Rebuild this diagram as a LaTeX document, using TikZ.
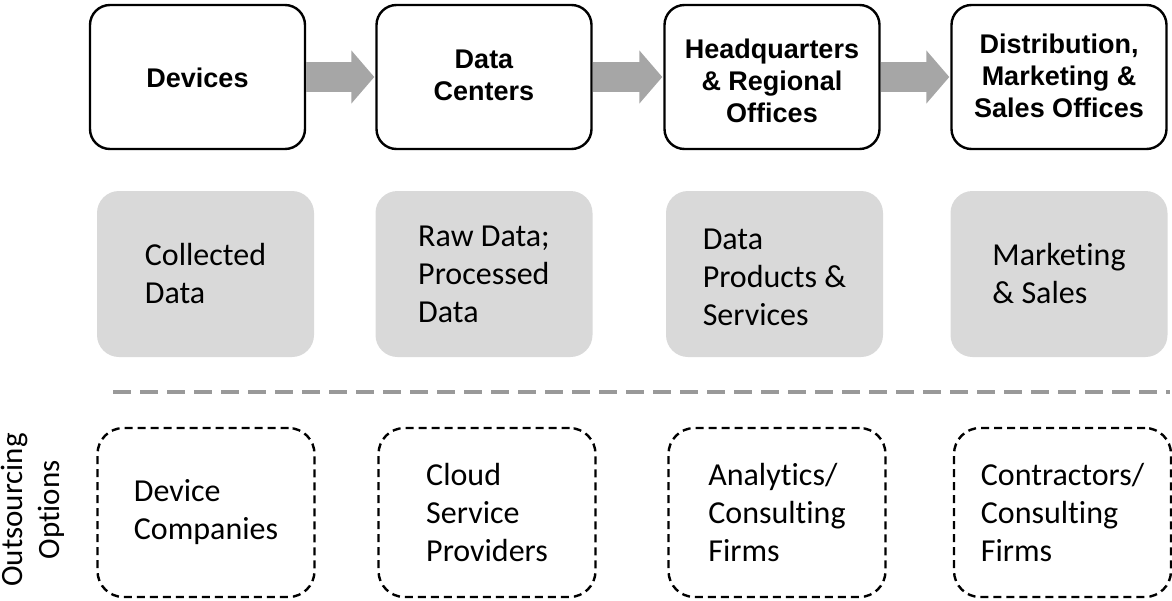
\documentclass[tikz,border=0pt]{standalone}
\usepackage{fontspec}
\usetikzlibrary{arrows.meta}
\newfontfamily\hdfont{Liberation Sans}
\newfontfamily\calfont{Carlito}[Ligatures=NoCommon]
\definecolor{arrowgray}{HTML}{A6A6A6}
\definecolor{boxgray}{HTML}{D9D9D9}
\definecolor{sepgray}{HTML}{999999}
\tikzset{
  topbox/.style={draw=black, line width=2.4pt, rounded corners=20pt, fill=white,
    minimum width=215pt, minimum height=144pt, inner sep=0pt},
  toptext/.style={align=center, inner sep=0pt,
    font=\hdfont\bfseries\fontsize{27}{32}\selectfont},
  graybox/.style={fill=boxgray, rounded corners=22pt,
    minimum width=217pt, minimum height=166pt, inner sep=0pt},
  graytext/.style={align=left, inner sep=0pt, font=\calfont\fontsize{32}{38}\selectfont},
  dashbox/.style={draw=black, line width=2.4pt, dash pattern=on 8pt off 5pt, rounded corners=26pt,
    minimum width=217pt, minimum height=169pt, inner sep=0pt},
  flowarrow/.style={draw=arrowgray, line width=30pt, -{Triangle[length=23pt,width=52pt]}, shorten >=1pt},
}
\begin{document}
\begin{tikzpicture}[x=1pt,y=-1pt]
\useasboundingbox (0,0) rectangle (1172,600);
% top row
\node[topbox] (dev) at (197.5,77) {};
\node[topbox] (dc) at (484,77) {};
\node[topbox] (hq) at (772,77) {};
\node[topbox] (dist) at (1059,77) {};
\node[toptext] (devt) at (197.5,78) {Devices};
\node[toptext] (dct) at (484,75) {Data\\Centers};
\node[toptext] (hqt) at (772,81) {Headquarters\\\& Regional\\Offices};
\node[toptext] (distt) at (1059,76) {Distribution,\\Marketing \&\\Sales Offices};
\draw[flowarrow] (dev.east) -- (dc.west);
\draw[flowarrow] (dc.east) -- (hq.west);
\draw[flowarrow] (hq.east) -- (dist.west);
% gray row
\node[graybox] (g1) at (205.5,274) {};
\node[graybox] (g2) at (484,274) {};
\node[graybox] (g3) at (774.5,274) {};
\node[graybox] (g4) at (1059,274) {};
\node[graytext] (t1) at (g1.center) {Collected\\Data};
\node[graytext] (t2) at (g2.center) {Raw Data;\\Processed\\Data};
\node[graytext] (t3) at ([yshift=-3pt]g3.center) {Data\\Products \&\\Services};
\node[graytext] (t4) at (g4.center) {Marketing\\\& Sales};
% separator
\draw[sepgray, line width=3.5pt, dash pattern=on 18pt off 9pt] (113,392) -- (1170,392);
% outsourcing row
\node[rotate=90, align=center, inner sep=0pt, font=\calfont\fontsize{31}{37}\selectfont] (oo) at (33,510) {Outsourcing\\Options};
\node[dashbox] (o1) at (206,512.5) {};
\node[dashbox] (o2) at (487,512.5) {};
\node[dashbox] (o3) at (777,512.5) {};
\node[dashbox] (o4) at (1062.5,512.5) {};
\node[graytext] (u1) at (o1.center) {Device\\Companies};
\node[graytext] (u2) at (o2.center) {Cloud\\Service\\Providers};
\node[graytext] (u3) at (o3.center) {Analytics/\\Consulting\\Firms};
\node[graytext] (u4) at (o4.center) {Contractors/\\Consulting\\Firms};
\end{tikzpicture}
\end{document}
